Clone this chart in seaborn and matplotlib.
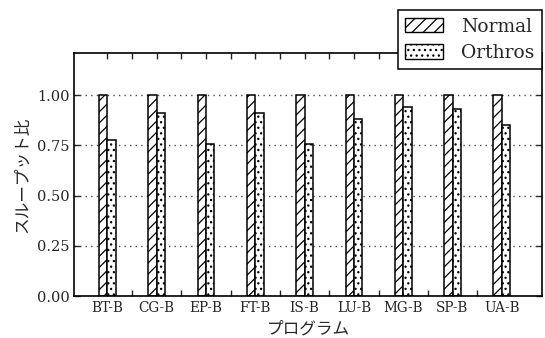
import numpy as np
import pandas as pd
import matplotlib
matplotlib.use("Agg")
import matplotlib.pyplot as plt
import seaborn as sns
from matplotlib.patches import Patch

programs = ["BT-B", "CG-B", "EP-B", "FT-B", "IS-B", "LU-B", "MG-B", "SP-B", "UA-B"]
normal = [1.00, 1.00, 1.00, 1.00, 1.00, 1.00, 1.00, 1.00, 1.00]
orthros = [0.775, 0.913, 0.755, 0.913, 0.755, 0.880, 0.943, 0.933, 0.853]
modes = ["Normal", "Orthros"]
hatches = ["///", "..."]

sns.set_style("ticks")
plt.rcParams['font.family'] = ['DejaVu Serif', 'Noto Sans CJK JP']
plt.rcParams['hatch.linewidth'] = 0.9

df = pd.DataFrame({
    "program": programs * 2,
    "ratio": normal + orthros,
    "mode": [modes[0]] * len(programs) + [modes[1]] * len(programs),
})

fig = plt.figure(figsize=(5.45, 3.38), dpi=100)
ax = fig.add_axes([0.136, 0.124, 0.859, 0.719])

sns.barplot(data=df, x="program", y="ratio", hue="mode", order=programs,
            hue_order=modes, palette=["white", "white"], edgecolor="black",
            linewidth=1.1, width=0.34, ax=ax, legend=False, errorbar=None,
            saturation=1)

for cont, h in zip(ax.containers, hatches):
    for bar in cont:
        bar.set_hatch(h)

ax.set_xlim(-0.675, 8.82)
ax.set_ylim(0, 1.209)
ax.set_yticks([0.0, 0.25, 0.5, 0.75, 1.0])
ax.set_yticklabels(["%.2f" % v for v in [0.0, 0.25, 0.5, 0.75, 1.0]], fontsize=10.5)
ax.set_xticks(range(len(programs)))
ax.set_xticklabels(programs, fontsize=9.8)
ax.set_xticks(np.arange(0.5, len(programs) - 1, 1), minor=True)
ax.tick_params(which="both", direction="in", top=True, right=True, length=4, width=1)
ax.yaxis.grid(True, linestyle=(0, (1, 3)), color="0.3", linewidth=1)
ax.set_axisbelow(True)
for s in ax.spines.values():
    s.set_linewidth(1.2)
    s.set_color("black")

ax.set_xlabel("プログラム", fontsize=12, family=['Noto Sans CJK JP'])
ax.set_ylabel("スループット比", fontsize=12, family=['Noto Sans CJK JP'])

handles = [Patch(facecolor="white", edgecolor="black", hatch=h, linewidth=1) for h in hatches]
leg = ax.legend(handles, modes, loc="upper right", bbox_to_anchor=(1.0, 1.177),
                borderaxespad=0, fancybox=False, framealpha=1, edgecolor="black",
                fontsize=13.5, handlelength=2.0, handleheight=0.8,
                labelspacing=0.45, borderpad=0.4, handletextpad=1.0)
leg.get_frame().set_linewidth(1.1)

fig.savefig("out.png", dpi=100)
